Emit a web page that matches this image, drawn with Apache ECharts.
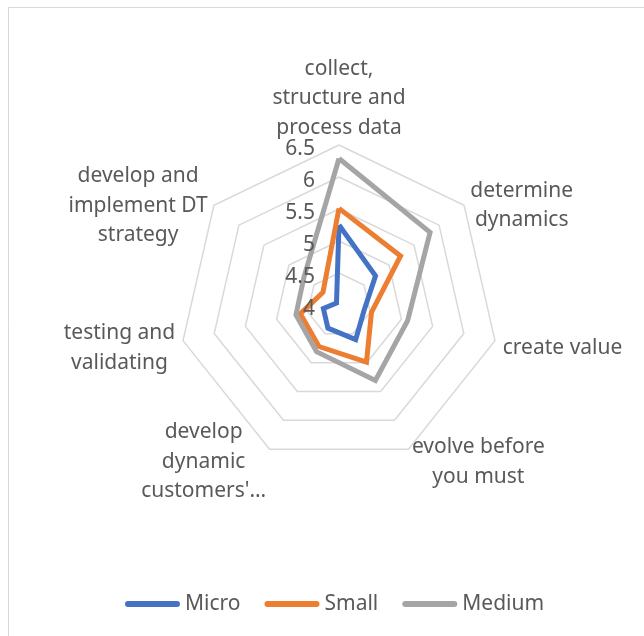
<!DOCTYPE html>
<html>
<head>
<meta charset="utf-8">
<title>Radar</title>
<script src="https://cdn.jsdelivr.net/npm/echarts@6.0.0/dist/echarts.min.js"></script>
<style>
    html, body { margin: 0; padding: 0; background: #fff; }
    #chart { width: 644px; height: 636px; }
</style>
</head>
<body>
<div id="chart"></div>
<script>
// axis names, clockwise from the top (as in the original)
const indicatorNames = [
    'collect,\nstructure and\nprocess data',
    'determine\ndynamics',
    'create value',
    'evolve before\nyou must',
    "develop\ndynamic\ncustomers'\u2026",
    'testing and\nvalidating',
    'develop and\nimplement DT\nstrategy'
];
const seriesNames = ['Micro', 'Small', 'Medium'];
const microValues = [5.25, 4.73, 4.40, 4.60, 4.40, 4.25, 4.05];
const smallValues = [5.51, 5.23, 4.52, 4.99, 4.72, 4.62, 4.32];
const mediumValues = [6.29, 5.82, 5.10, 5.31, 4.81, 4.69, 4.70];
const axisMin = 4;
const axisMax = 6.5;
const splitCount = 5; // 4, 4.5, 5, 5.5, 6, 6.5

const colors = ['#4472C4', '#ED7D31', '#A5A5A5'];
const textColor = '#595959';
const fontFamily = '"Noto Sans", sans-serif';
const center = [339, 305];
const radius = 160;

// echarts lays indicators out counter-clockwise, so flip the order after the first
const order = [0, 6, 5, 4, 3, 2, 1];
function reorder(arr) {
    return order.map(function(i) { return arr[i]; });
}

const chart = echarts.init(document.getElementById('chart'));

const option = {
    animation: false,
    color: colors,
    graphic: [{
        type: 'rect',
        silent: true,
        z: -10,
        shape: { x: 8.5, y: 7.5, width: 700, height: 700 },
        style: { fill: '#fff', stroke: '#d9d9d9', lineWidth: 1 }
    }],
    legend: {
        data: seriesNames,
        left: 120,
        top: 588,
        itemWidth: 55,
        itemHeight: 6,
        itemGap: 24,
        icon: 'path://M3,0 H52 A3,3 0 0 1 52,6 H3 A3,3 0 0 1 3,0 Z',
        textStyle: { color: textColor, fontSize: 21, fontFamily: fontFamily, lineHeight: 22 }
    },
    radar: [{
        // grid rings + category names, under the series
        center: center,
        radius: radius,
        startAngle: 90,
        shape: 'polygon',
        splitNumber: splitCount,
        nameGap: 8,
        z: 0,
        axisName: {
            color: textColor,
            fontSize: 21,
            fontFamily: fontFamily,
            lineHeight: 29.5,
            formatter: function(name) {
                // centre every line inside its block like the original
                return name.split('\n').map(function(l) { return '{c|' + l + '}'; }).join('\n');
            },
            rich: {
                c: {
                    align: 'center', color: textColor, fontSize: 21, fontFamily: fontFamily,
                    lineHeight: 29.5, padding: [11, 0, 0, 0]
                }
            }
        },
        axisLine: { show: false },
        axisTick: { show: false },
        axisLabel: { show: false },
        splitArea: { show: false },
        splitLine: { lineStyle: { color: '#d9d9d9', width: 1.5 } },
        indicator: reorder(indicatorNames).map(function(name) {
            return { name: name, min: axisMin, max: axisMax };
        })
    }, {
        // value labels on the top axis, drawn above the series
        center: center,
        radius: radius,
        startAngle: 90,
        shape: 'polygon',
        splitNumber: splitCount,
        z: 5,
        axisName: { show: false },
        axisLine: { show: false },
        axisTick: { show: false },
        axisLabel: { show: false },
        splitArea: { show: false },
        splitLine: { show: false },
        indicator: reorder(indicatorNames).map(function(name, i) {
            return {
                name: name,
                min: axisMin,
                max: axisMax,
                axisLabel: {
                    show: i === 0,
                    margin: 24,
                    formatter: function(v) { return '{v|' + v + '}'; },
                    rich: {
                        v: {
                            color: textColor, fontSize: 21, fontFamily: fontFamily,
                            lineHeight: 22, padding: [8, 0, 0, 0]
                        }
                    }
                }
            };
        })
    }],
    series: [{
        type: 'radar',
        radarIndex: 0,
        symbol: 'none',
        silent: true,
        z: 2,
        lineStyle: { width: 5, join: 'miter' },
        data: [
            { name: seriesNames[0], value: reorder(microValues), lineStyle: { color: colors[0], width: 5 }, itemStyle: { color: colors[0] } },
            { name: seriesNames[1], value: reorder(smallValues), lineStyle: { color: colors[1], width: 5 }, itemStyle: { color: colors[1] } },
            { name: seriesNames[2], value: reorder(mediumValues), lineStyle: { color: colors[2], width: 5 }, itemStyle: { color: colors[2] } }
        ]
    }]
};

chart.setOption(option);
</script>
</body>
</html>
